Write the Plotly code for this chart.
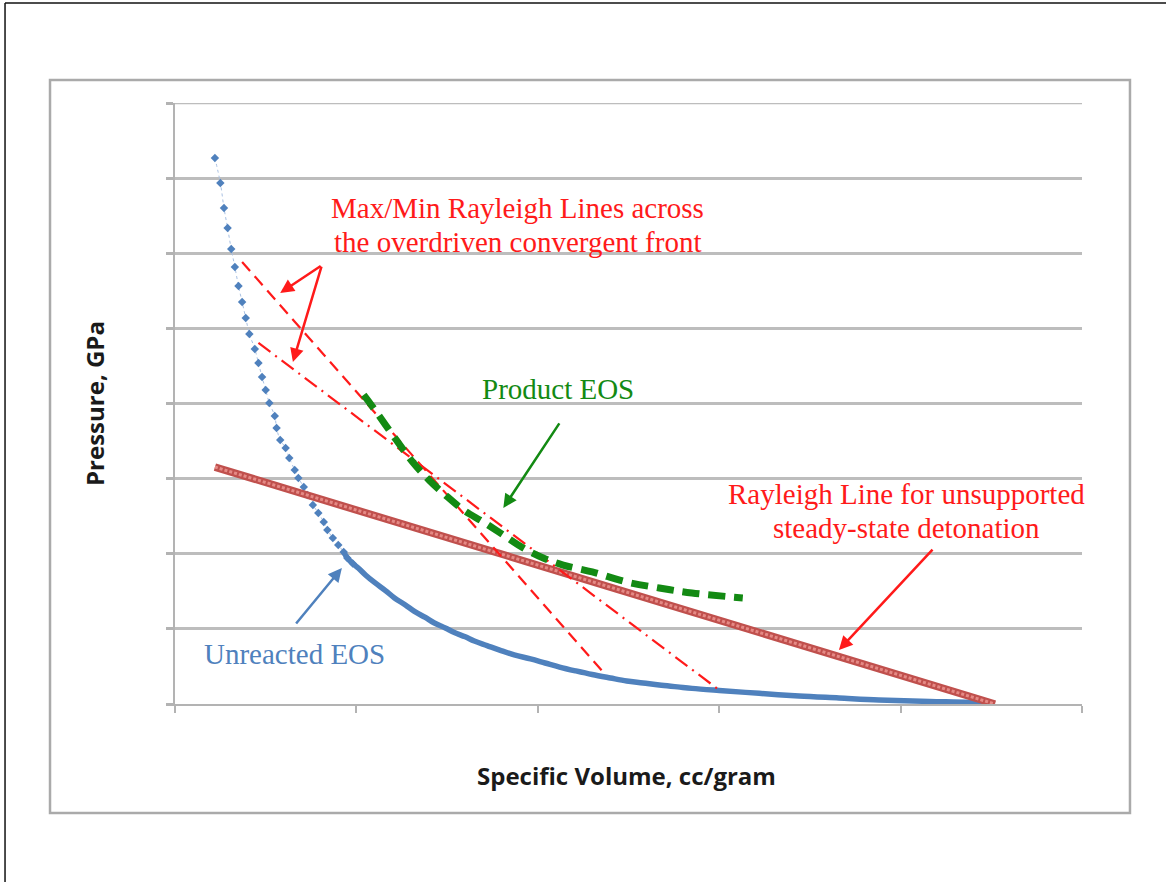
import plotly.graph_objects as go

# Unreacted explosive Hugoniot (specific volume cc/g, pressure GPa)
unreacted_v = [0.222, 0.225, 0.227, 0.229, 0.231, 0.233, 0.235, 0.237, 0.239, 0.241,
               0.244, 0.246, 0.248, 0.250, 0.252, 0.255, 0.256, 0.258, 0.261, 0.263,
               0.266, 0.268, 0.271, 0.273, 0.276, 0.279, 0.282, 0.284, 0.287, 0.290,
               0.293, 0.295, 0.298, 0.301, 0.305, 0.310, 0.316, 0.321, 0.327, 0.332,
               0.338, 0.343, 0.349, 0.354, 0.360, 0.365, 0.372, 0.379, 0.387, 0.396,
               0.404, 0.412, 0.421, 0.430, 0.440, 0.449, 0.458, 0.467, 0.477, 0.485,
               0.500, 0.522, 0.544, 0.566, 0.588, 0.616, 0.638, 0.652]
unreacted_p = [36.34, 34.68, 33.01, 31.68, 30.28, 29.09, 27.82, 26.76, 25.69, 24.63,
               23.63, 22.70, 21.76, 20.90, 20.03, 19.17, 18.37, 17.57, 17.04, 16.37,
               15.58, 15.04, 14.44, 13.91, 13.25, 12.71, 12.11, 11.58, 11.05, 10.58,
               10.12, 9.72, 9.35, 9.05, 8.59, 8.09, 7.55, 7.06, 6.59, 6.16,
               5.76, 5.39, 5.06, 4.76, 4.47, 4.19, 3.89, 3.59, 3.27, 3.00,
               2.73, 2.46, 2.20, 1.96, 1.73, 1.53, 1.40, 1.26, 1.14, 1.04,
               0.90, 0.71, 0.53, 0.40, 0.27, 0.17, 0.10, 0.0]

# Detonation product EOS
product_v = [0.304, 0.309, 0.322, 0.331, 0.340, 0.349, 0.359, 0.370, 0.381, 0.392,
             0.403, 0.414, 0.430, 0.449, 0.467, 0.485, 0.513]
product_p = [20.57, 19.77, 17.57, 16.11, 14.91, 13.91, 12.91, 12.11, 11.25, 10.38,
             9.72, 9.25, 8.79, 8.12, 7.72, 7.39, 7.06]

# Rayleigh line for unsupported steady-state detonation
rayleigh_v = [0.222, 0.652]
rayleigh_p = [15.77, 0.0]

# Max / min Rayleigh lines across the overdriven convergent front
max_rayleigh_v = [0.237, 0.436]
max_rayleigh_p = [29.42, 2.13]
min_rayleigh_v = [0.246, 0.500]
min_rayleigh_p = [24.03, 0.93]

x_ticks = [0.2, 0.3, 0.4, 0.5, 0.6, 0.7]
y_ticks = [0, 5, 10, 15, 20, 25, 30, 35, 40]

BLUE = "#4f81bd"
RED = "#ff1a1a"
GREEN = "#138a13"
SERIF = "Liberation Serif, Times New Roman, serif"
SANS = "Open Sans, sans-serif"

fig = go.Figure()

# unreacted EOS: faint dotted connector, thick band where points crowd, then markers
fig.add_trace(go.Scatter(x=unreacted_v, y=unreacted_p, mode="lines",
                         line=dict(color="#a9c1e3", width=1, dash="dot", shape="spline"),
                         hoverinfo="skip", showlegend=False))
dense_start = next(i for i, v in enumerate(unreacted_v) if v >= 0.293)
fig.add_trace(go.Scatter(x=unreacted_v[dense_start:], y=unreacted_p[dense_start:],
                         mode="lines", line=dict(color=BLUE, width=5.5, shape="spline"),
                         hoverinfo="skip", showlegend=False))
fig.add_trace(go.Scatter(x=unreacted_v[:dense_start + 3], y=unreacted_p[:dense_start + 3],
                         mode="markers",
                         marker=dict(color=BLUE, size=6.5, symbol="diamond"),
                         name="Unreacted EOS", showlegend=False))

# steady-state Rayleigh line drawn as a band of small squares
fig.add_trace(go.Scatter(x=rayleigh_v, y=rayleigh_p, mode="lines",
                         line=dict(color="#c0504d", width=7.5),
                         hoverinfo="skip", showlegend=False))
fig.add_trace(go.Scatter(x=rayleigh_v, y=rayleigh_p, mode="lines",
                         line=dict(color="#e58a86", width=3, dash="3px,2px"),
                         name="Rayleigh Line", showlegend=False))

# max / min Rayleigh lines
fig.add_trace(go.Scatter(x=max_rayleigh_v, y=max_rayleigh_p, mode="lines",
                         line=dict(color=RED, width=2.2, dash="12px,7px"),
                         showlegend=False))
fig.add_trace(go.Scatter(x=min_rayleigh_v, y=min_rayleigh_p, mode="lines",
                         line=dict(color=RED, width=2.2, dash="15px,6px,2px,6px"),
                         showlegend=False))

# product EOS
fig.add_trace(go.Scatter(x=product_v, y=product_p, mode="lines",
                         line=dict(color=GREEN, width=7, dash="17px,9px", shape="spline"),
                         showlegend=False))


def label(x, y, text, color):
    return dict(x=x, y=y, text=text, showarrow=False,
                font=dict(family=SERIF, size=29, color=color))


def arrow(x, y, ax, ay, color):
    return dict(x=x, y=y, ax=ax, ay=ay, text="", showarrow=True, arrowhead=2,
                arrowsize=1.1, arrowwidth=2.5, arrowcolor=color)


annotations = [
    label(0.389, 33.01, "Max/Min Rayleigh Lines across", RED),
    label(0.389, 30.75, "the overdriven convergent front", RED),
    label(0.411, 20.97, "Product EOS", GREEN),
    label(0.603, 13.98, "Rayleigh Line for unsupported", RED),
    label(0.603, 11.71, "steady-state detonation", RED),
    label(0.266, 3.33, "Unreacted EOS", BLUE),
    arrow(0.258, 27.36, 42, -28, RED),
    arrow(0.265, 22.76, 29, -97, RED),
    arrow(0.381, 13.05, 57, -86, GREEN),
    arrow(0.566, 3.59, 95, -102, RED),
    arrow(0.292, 9.05, -47, 57, BLUE),
    # axis titles
    dict(xref="paper", yref="paper", x=0.4983, y=-0.1198,
         xanchor="center", yanchor="middle",
         text="<b>Specific Volume, cc/gram</b>", showarrow=False,
         font=dict(family=SANS, size=24, color="#1a1a1a")),
    dict(xref="paper", yref="paper", x=-0.0882, y=0.4992, textangle=-90,
         xanchor="center", yanchor="middle",
         text="<b>Pressure, GPa</b>", showarrow=False,
         font=dict(family=SANS, size=24, color="#1a1a1a")),
]

shapes = [
    # chart-area frame
    dict(type="rect", xref="paper", yref="paper", x0=-0.1378, x1=1.0529,
         y0=-0.1814, y1=1.0383, line=dict(color="#aaaaaa", width=2.5), layer="below"),
    # top gridline with its tick
    dict(type="line", xref="paper", yref="y", x0=-0.0077, x1=1.0, y0=40, y1=40,
         line=dict(color="#bdbdbd", width=2.5), layer="below"),
    # outer page border (left and top)
    dict(type="line", xref="paper", yref="paper", x0=-0.1874, x1=-0.1874,
         y0=-0.30, y1=1.1664, line=dict(color="#111111", width=1.5)),
    dict(type="line", xref="paper", yref="paper", x0=-0.1874, x1=1.10,
         y0=1.1664, y1=1.1664, line=dict(color="#111111", width=1.5)),
]

fig.update_layout(
    width=1166, height=882,
    margin=dict(l=175, r=84, t=103, b=178),
    paper_bgcolor="white", plot_bgcolor="white",
    annotations=annotations, shapes=shapes,
    showlegend=False,
)
fig.update_xaxes(range=[0.2, 0.7], tickvals=x_ticks, showticklabels=False,
                 showgrid=False, zeroline=False, showline=True,
                 linecolor="#b3b3b3", linewidth=2, ticks="outside",
                 ticklen=7, tickcolor="#b3b3b3", tickwidth=2)
fig.update_yaxes(range=[0, 40], tickvals=y_ticks, showticklabels=False,
                 showgrid=True, gridcolor="#bdbdbd", gridwidth=2.5, zeroline=False,
                 showline=True, linecolor="#b3b3b3", linewidth=2, ticks="outside",
                 ticklen=7, tickcolor="#b3b3b3", tickwidth=2.5)

fig.write_html("out.html")
